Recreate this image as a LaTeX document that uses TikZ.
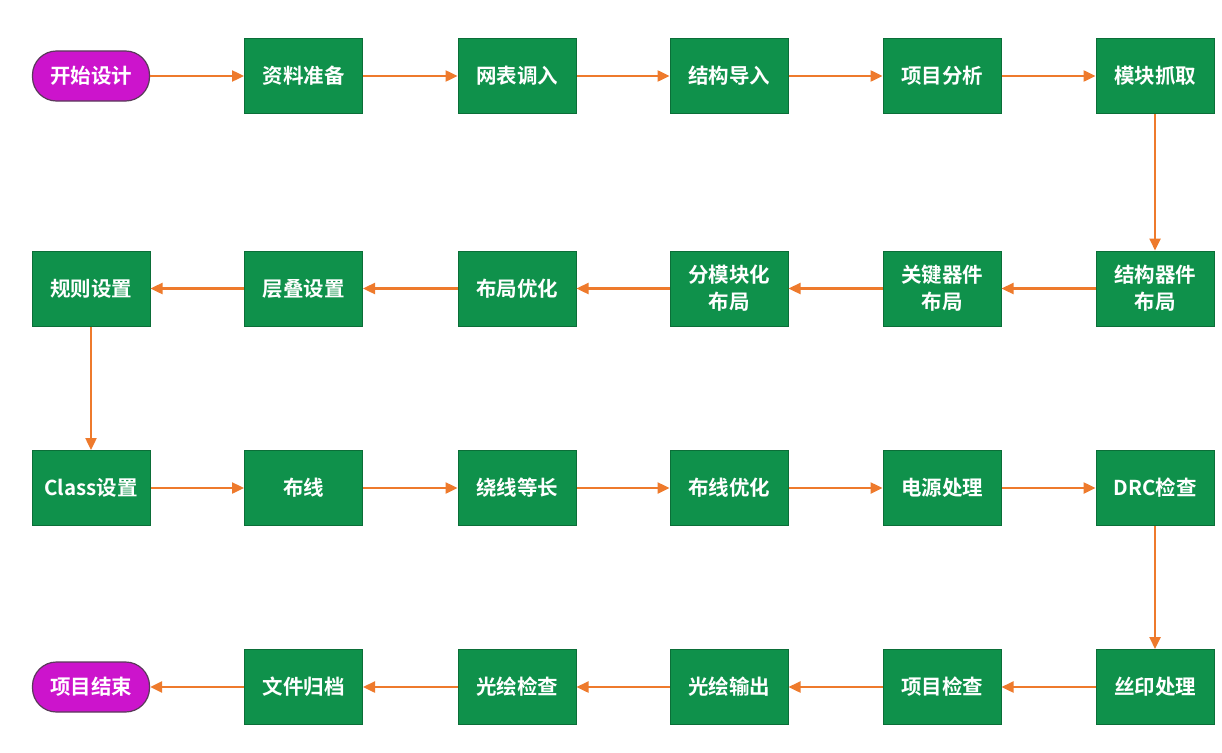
\documentclass[tikz,border=0pt]{standalone}
\usepackage{fontspec}
\setmainfont{Noto Sans CJK SC}[BoldFont={* Bold}]
\usetikzlibrary{arrows.meta}
\definecolor{boxgreen}{HTML}{0F914B}
\definecolor{boxedge}{HTML}{0B6E38}
\definecolor{pillmag}{HTML}{CC14CC}
\definecolor{pilledge}{HTML}{5A3A5A}
\definecolor{arroworange}{HTML}{EE7A2C}
\begin{document}
\begin{tikzpicture}[x=1pt,y=-1pt,
  stepbox/.style={draw=boxedge,line width=1pt,fill=boxgreen,minimum width=118pt,minimum height=75pt,
    inner sep=0pt,align=center,text=white,font=\bfseries\fontsize{20.5}{27}\selectfont},
  pill/.style={draw=pilledge,line width=1.2pt,fill=pillmag,rounded corners=24pt,minimum width=117pt,minimum height=50pt,
    inner sep=0pt,text=white,font=\bfseries\fontsize{20.5}{24}\selectfont},
  flow/.style={draw=arroworange,line width=2.4pt,-{Triangle[length=12pt,width=11pt]}}]
\useasboundingbox (0,0) rectangle (1222,752);
\fill[white] (0,0) rectangle (1222,752);
% row 1
\node[pill] (start) at (91,76) {开始设计};
\node[stepbox] (a1) at (303.5,76) {资料准备};
\node[stepbox] (a2) at (517,76) {网表调入};
\node[stepbox] (a3) at (729,76) {结构导入};
\node[stepbox] (a4) at (942,76) {项目分析};
\node[stepbox] (a5) at (1155,76) {模块抓取};
% row 2
\node[stepbox] (b6) at (1155,288.5) {结构器件\\布局};
\node[stepbox] (b5) at (942,288.5) {关键器件\\布局};
\node[stepbox] (b4) at (729,288.5) {分模块化\\布局};
\node[stepbox] (b3) at (517,288.5) {布局优化};
\node[stepbox] (b2) at (303.5,288.5) {层叠设置};
\node[stepbox] (b1) at (91,288.5) {规则设置};
% row 3
\node[stepbox] (c1) at (91,488) {Class设置};
\node[stepbox] (c2) at (303.5,488) {布线};
\node[stepbox] (c3) at (517,488) {绕线等长};
\node[stepbox] (c4) at (729,488) {布线优化};
\node[stepbox] (c5) at (942,488) {电源处理};
\node[stepbox] (c6) at (1155,488) {DRC检查};
% row 4
\node[stepbox] (d6) at (1155,687) {丝印处理};
\node[stepbox] (d5) at (942,687) {项目检查};
\node[stepbox] (d4) at (729,687) {光绘输出};
\node[stepbox] (d3) at (517,687) {光绘检查};
\node[stepbox] (d2) at (303.5,687) {文件归档};
\node[pill] (end) at (91,687) {项目结束};
% connectors
\draw[flow] (start) -- (a1);
\draw[flow] (a1) -- (a2);
\draw[flow] (a2) -- (a3);
\draw[flow] (a3) -- (a4);
\draw[flow] (a4) -- (a5);
\draw[flow] (a5) -- (b6);
\draw[flow] (b6) -- (b5);
\draw[flow] (b5) -- (b4);
\draw[flow] (b4) -- (b3);
\draw[flow] (b3) -- (b2);
\draw[flow] (b2) -- (b1);
\draw[flow] (b1) -- (c1);
\draw[flow] (c1) -- (c2);
\draw[flow] (c2) -- (c3);
\draw[flow] (c3) -- (c4);
\draw[flow] (c4) -- (c5);
\draw[flow] (c5) -- (c6);
\draw[flow] (c6) -- (d6);
\draw[flow] (d6) -- (d5);
\draw[flow] (d5) -- (d4);
\draw[flow] (d4) -- (d3);
\draw[flow] (d3) -- (d2);
\draw[flow] (d2) -- (end);
\end{tikzpicture}
\end{document}
